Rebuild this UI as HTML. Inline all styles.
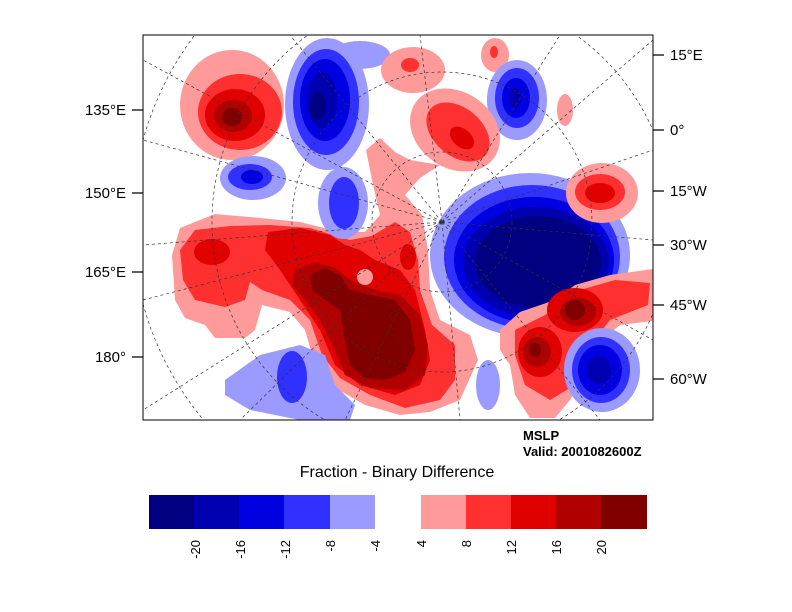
<!DOCTYPE html>
<html><head><meta charset="utf-8"><style>
body{margin:0;background:#fff;}
svg{display:block;font-family:"Liberation Sans",sans-serif;}
</style></head><body>
<svg width="792" height="612" viewBox="0 0 792 612" xmlns="http://www.w3.org/2000/svg">
<defs><clipPath id="c"><rect x="143" y="35" width="510" height="385"/></clipPath></defs>
<rect width="792" height="612" fill="#fff"/>
<g clip-path="url(#c)">
<!-- big red -->
<path fill="#ff9a9a" d="M172,255 L180,228 L215,214 L260,218 L300,222 L340,232 L365,232 L380,215 L372,180 L366,150 L380,138 L395,152 L410,160 L440,165 L420,178 L405,195 L422,215 L428,250 L430,290 L440,320 L470,335 L478,360 L460,400 L430,412 L400,415 L365,405 L330,385 L315,365 L305,330 L290,312 L262,305 L255,330 L245,338 L215,338 L205,325 L185,318 L175,300 Z"/>
<path fill="#ff3030" d="M180,250 L195,230 L230,226 L270,225 L310,228 L350,240 L372,236 L395,222 L410,232 L418,260 L420,290 L432,325 L455,345 L455,380 L440,400 L405,408 L370,395 L340,378 L322,355 L310,320 L290,300 L262,290 L250,282 L245,300 L225,307 L195,300 L183,280 Z"/>
<path fill="#e00000" d="M268,232 L300,228 L330,235 L345,245 L360,250 L375,260 L400,270 L415,290 L425,330 L430,360 L420,385 L395,395 L360,385 L335,365 L320,330 L300,300 L280,270 L265,250 Z"/>
<ellipse cx="212" cy="252" rx="18" ry="13" fill="#e00000"/>
<ellipse cx="408" cy="257" rx="8" ry="13" fill="#e00000"/>
<path fill="#b00000" d="M295,270 L315,262 L335,268 L350,280 L375,290 L400,295 L420,315 L428,345 L425,375 L405,390 L370,388 L345,375 L335,350 L320,320 L305,300 L292,285 Z"/>
<path fill="#800000" d="M310,275 L325,268 L340,275 L350,290 L370,295 L395,300 L410,320 L415,350 L405,372 L385,380 L365,378 L350,365 L345,340 L340,310 L325,300 L312,290 Z"/>
<circle cx="365" cy="277" r="8" fill="#ff9a9a"/>
<!-- upper-left red -->
<ellipse cx="232" cy="105" rx="52" ry="55" fill="#ff9a9a"/>
<ellipse cx="240" cy="112" rx="42" ry="38" fill="#ff3030"/>
<ellipse cx="235" cy="115" rx="30" ry="26" fill="#e00000"/>
<ellipse cx="233" cy="116" rx="19" ry="16" fill="#b00000"/>
<ellipse cx="232" cy="117" rx="10" ry="9" fill="#800000"/>
<!-- upper blue -->
<ellipse cx="327" cy="104" rx="42" ry="66" fill="#9a9aff"/>
<ellipse cx="360" cy="55" rx="30" ry="14" fill="#9a9aff"/>
<ellipse cx="326" cy="102" rx="33" ry="53" fill="#3030ff"/>
<ellipse cx="325" cy="100" rx="25" ry="41" fill="#0000e0"/>
<ellipse cx="322" cy="100" rx="15" ry="28" fill="#0000b0"/>
<ellipse cx="318" cy="106" rx="8" ry="14" fill="#000080"/>
<!-- small blue -->
<ellipse cx="253" cy="178" rx="33" ry="22" fill="#9a9aff"/>
<ellipse cx="250" cy="177" rx="22" ry="13" fill="#3030ff"/>
<ellipse cx="252" cy="177" rx="11" ry="7" fill="#0000e0"/>
<ellipse cx="343" cy="203" rx="25" ry="36" fill="#9a9aff"/>
<ellipse cx="344" cy="203" rx="15" ry="26" fill="#3030ff"/>
<!-- top reds -->
<ellipse cx="413" cy="70" rx="32" ry="23" fill="#ff9a9a"/>
<ellipse cx="410" cy="65" rx="9" ry="7" fill="#ff3030"/>
<ellipse cx="495" cy="55" rx="14" ry="17" fill="#ff9a9a"/>
<ellipse cx="494" cy="52" rx="4" ry="6" fill="#ff3030"/>
<!-- blue top right -->
<ellipse cx="517" cy="100" rx="30" ry="40" fill="#9a9aff"/>
<ellipse cx="517" cy="98" rx="22" ry="30" fill="#3030ff"/>
<ellipse cx="516" cy="98" rx="14" ry="20" fill="#0000e0"/>
<ellipse cx="515" cy="98" rx="6" ry="10" fill="#0000b0"/>
<!-- red diag -->
<ellipse cx="455" cy="130" rx="48" ry="38" transform="rotate(35 455 130)" fill="#ff9a9a"/>
<ellipse cx="458" cy="132" rx="36" ry="24" transform="rotate(40 458 132)" fill="#ff3030"/>
<ellipse cx="462" cy="138" rx="14" ry="9" transform="rotate(40 462 138)" fill="#e00000"/>
<ellipse cx="565" cy="110" rx="8" ry="16" fill="#ff9a9a"/>
<!-- big blue -->
<ellipse cx="530" cy="255" rx="100" ry="82" fill="#9a9aff"/>
<ellipse cx="532" cy="257" rx="88" ry="72" fill="#3030ff"/>
<ellipse cx="534" cy="260" rx="80" ry="63" fill="#0000e0"/>
<ellipse cx="536" cy="262" rx="73" ry="55" fill="#0000b0"/>
<ellipse cx="538" cy="262" rx="63" ry="46" fill="#000080"/>
<!-- red right -->
<ellipse cx="602" cy="193" rx="36" ry="30" fill="#ff9a9a"/>
<ellipse cx="600" cy="192" rx="25" ry="18" fill="#ff3030"/>
<ellipse cx="600" cy="193" rx="15" ry="10" fill="#e00000"/>
<!-- lower right red -->
<path fill="#ff9a9a" d="M500,330 L520,312 L555,300 L575,285 L610,275 L660,268 L660,320 L620,325 L595,345 L585,375 L570,400 L555,418 L530,418 L515,395 L510,365 L500,350 Z"/>
<path fill="#ff3030" d="M515,330 L545,315 L580,290 L615,280 L650,283 L648,305 L610,320 L590,345 L575,385 L550,400 L525,385 L515,355 Z"/>
<ellipse cx="575" cy="310" rx="28" ry="22" fill="#e00000"/>
<ellipse cx="540" cy="352" rx="22" ry="25" fill="#e00000"/>
<ellipse cx="578" cy="312" rx="18" ry="14" fill="#b00000"/>
<ellipse cx="537" cy="352" rx="14" ry="15" fill="#b00000"/>
<ellipse cx="575" cy="310" rx="10" ry="10" fill="#800000"/>
<ellipse cx="535" cy="350" rx="6" ry="7" fill="#800000"/>
<!-- lower right blue -->
<ellipse cx="602" cy="370" rx="38" ry="42" fill="#9a9aff"/>
<ellipse cx="601" cy="370" rx="29" ry="33" fill="#3030ff"/>
<ellipse cx="600" cy="370" rx="22" ry="25" fill="#0000e0"/>
<ellipse cx="599" cy="370" rx="12" ry="14" fill="#0000b0"/>
<!-- lower left blue -->
<path fill="#9a9aff" d="M225,380 L260,355 L300,345 L325,355 L335,385 L355,405 L350,420 L300,420 L250,410 L225,395 Z"/>
<ellipse cx="292" cy="377" rx="15" ry="26" fill="#3030ff"/>
<ellipse cx="488" cy="385" rx="12" ry="25" fill="#9a9aff"/>
<!-- grid -->
<g fill="none" stroke="#333" stroke-width="0.7" stroke-dasharray="3,3">
<circle cx="442" cy="222" r="70"/><circle cx="442" cy="222" r="150"/><circle cx="442" cy="222" r="230"/><circle cx="442" cy="222" r="310"/>
<path d="M442,222 L143,60 M442,222 L143,140 M442,222 L143,245 M442,222 L143,300 M442,222 L143,410 M442,222 L240,420 M442,222 L345,420 M442,222 L460,420 M442,222 L600,420 M442,222 L653,340 M442,222 L653,240 M442,222 L653,150 M442,222 L653,40 M442,222 L560,35 M442,222 L420,35 M442,222 L290,35"/>
</g>
</g>
<rect x="143" y="35" width="510" height="385" fill="none" stroke="#000" stroke-width="1"/>
<g stroke="#000" stroke-width="1.2">
<path d="M132,110H143M132,193H143M132,272H143M132,357H143M653,55H664M653,130H664M653,191H664M653,245H664M653,305H664M653,379H664"/>
</g>
<g font-size="15" fill="#000">
<text x="126" y="115" text-anchor="end">135°E</text>
<text x="126" y="198" text-anchor="end">150°E</text>
<text x="126" y="277" text-anchor="end">165°E</text>
<text x="126" y="362" text-anchor="end">180°</text>
<text x="670" y="60">15°E</text>
<text x="670" y="135">0°</text>
<text x="670" y="196">15°W</text>
<text x="670" y="250">30°W</text>
<text x="670" y="310">45°W</text>
<text x="670" y="384">60°W</text>
</g>
<text x="523" y="440" font-size="13" font-weight="bold">MSLP</text>
<text x="523" y="456" font-size="13" font-weight="bold">Valid: 2001082600Z</text>
<text x="397" y="477" font-size="16" text-anchor="middle">Fraction - Binary Difference</text>
<g>
<rect x="149" y="495" width="46" height="34" fill="#000080"/>
<rect x="194" y="495" width="46" height="34" fill="#0000b0"/>
<rect x="239" y="495" width="46" height="34" fill="#0000e0"/>
<rect x="284" y="495" width="46" height="34" fill="#3030ff"/>
<rect x="330" y="495" width="45" height="34" fill="#9a9aff"/>
<rect x="421" y="495" width="46" height="34" fill="#ff9a9a"/>
<rect x="466" y="495" width="46" height="34" fill="#ff3030"/>
<rect x="511" y="495" width="46" height="34" fill="#e00000"/>
<rect x="556" y="495" width="46" height="34" fill="#b00000"/>
<rect x="601" y="495" width="46" height="34" fill="#800000"/>
</g>
<g font-size="13" fill="#000" text-anchor="end">
<text transform="translate(200,540) rotate(-90)">-20</text>
<text transform="translate(245,540) rotate(-90)">-16</text>
<text transform="translate(290,540) rotate(-90)">-12</text>
<text transform="translate(335,540) rotate(-90)">-8</text>
<text transform="translate(380,540) rotate(-90)">-4</text>
<text transform="translate(426,540) rotate(-90)">4</text>
<text transform="translate(471,540) rotate(-90)">8</text>
<text transform="translate(516,540) rotate(-90)">12</text>
<text transform="translate(561,540) rotate(-90)">16</text>
<text transform="translate(606,540) rotate(-90)">20</text>
</g>
</svg>
</body></html>
